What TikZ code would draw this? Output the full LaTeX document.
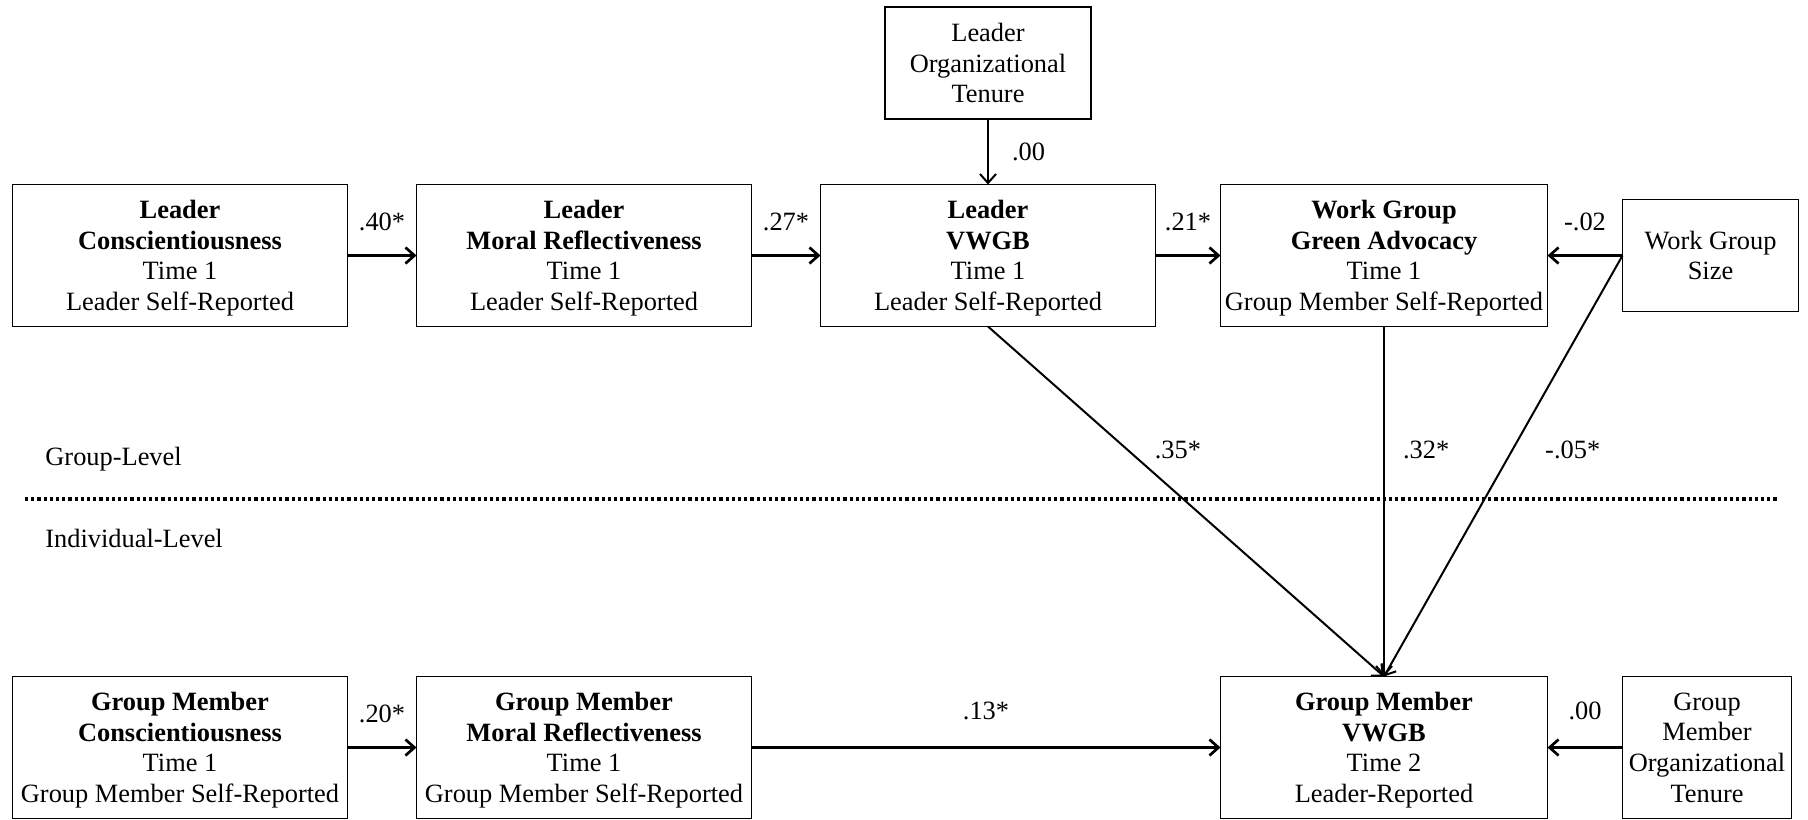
\documentclass[tikz,border=0pt]{standalone}
\usepackage{fontspec}
\setmainfont{Liberation Serif}
\usetikzlibrary{arrows.meta,positioning}

\begin{document}
\begin{tikzpicture}[
  x=0.5pt, y=-0.5pt,
  node distance=34.5pt,
  varbox/.style={rectangle, draw, line width=0.85pt, outer sep=0pt, align=center, inner sep=2pt,
    minimum width=167.5pt, minimum height=71pt, text depth=0pt, font=\fontsize{13.2}{15.3}\selectfont,
    execute at begin node={\rule{0pt}{12pt}}},
  ctrlbox/.style={varbox, minimum width=88pt, minimum height=56pt, execute at begin node={\rule{0pt}{10pt}}},
  effect/.style={line width=1pt, -{Straight Barb[length=4.5pt,width=8pt]}},
  flat/.style={effect, line width=1.35pt},
  coef/.style={font=\fontsize{13.2}{15.3}\selectfont, inner sep=1pt},
  levelnote/.style={font=\fontsize{13.2}{15.3}\selectfont, anchor=west, inner sep=0pt}
]
  \useasboundingbox (0,0) rectangle (1808,819);

  % group-level variables
  \node (lc) [varbox] at (180,255.5) {\textbf{Leader}\\\textbf{Conscientiousness}\\Time 1\\Leader Self-Reported};
  \node (lmr) [varbox, right=of lc] {\textbf{Leader}\\\textbf{Moral Reflectiveness}\\Time 1\\Leader Self-Reported};
  \node (lv) [varbox, right=of lmr] {\textbf{Leader}\\\textbf{VWGB}\\Time 1\\Leader Self-Reported};
  \node (wga) [varbox, right=32.5pt of lv, minimum width=163.5pt] {\textbf{Work Group}\\\textbf{Green Advocacy}\\Time 1\\Group Member Self-Reported};
  \node (wgs) [ctrlbox, right=37.5pt of wga] {Work Group\\Size};
  \node (lot) [ctrlbox, above=32.8pt of lv, minimum width=103pt] {Leader\\Organizational\\Tenure};

  % individual-level variables
  \node (gmc) [varbox, below=175pt of lc] {\textbf{Group Member}\\\textbf{Conscientiousness}\\Time 1\\Group Member Self-Reported};
  \node (gmmr) [varbox, right=of gmc] {\textbf{Group Member}\\\textbf{Moral Reflectiveness}\\Time 1\\Group Member Self-Reported};
  \node (gmv) [varbox, below=175pt of wga, minimum width=163.5pt] {\textbf{Group Member}\\\textbf{VWGB}\\Time 2\\Leader-Reported};
  \node (gmot) [ctrlbox, right=37.5pt of gmv, minimum width=84.5pt, minimum height=71pt] {Group\\Member\\Organizational\\Tenure};

  % level separator
  \coordinate (sepl) at (25,499);
  \coordinate (sepr) at (1777,499);
  \draw [line width=1.6pt, dash pattern=on 1.6pt off 1.5pt] (sepl) -- (sepr);
  \node (grp) [levelnote] at (45,459) {Group-Level};
  \node (ind) [levelnote] at (45,538) {Individual-Level};

  % paths
  \draw [flat] (lc) -- node [coef, above=10.5pt] {.40*} (lmr);
  \draw [flat] (lmr) -- node [coef, above=10.5pt] {.27*} (lv);
  \draw [flat] (lv) -- node [coef, above=10.5pt] {.21*} (wga);
  \draw [flat] (wgs.west) -- node [coef, above=10.5pt] {-.02} (wga);
  \draw [effect] (lot) -- node [coef, right=10.5pt] {.00} (lv);
  \draw [effect] (lv.south) -- node [coef, pos=0.353, right=12pt] {.35*} (gmv.north);
  \draw [effect] (wga.south) -- node [coef, pos=0.353, right=8pt] {.32*} (gmv.north);
  \draw [effect] (wgs.west) -- node [coef, pos=0.4625, right=15pt] {-.05*} (gmv.north);
  \draw [flat] (gmc) -- node [coef, above=10.5pt] {.20*} (gmmr);
  \draw [flat] (gmmr) -- node [coef, above=12pt] {.13*} (gmv);
  \draw [flat] (gmot) -- node [coef, above=12pt] {.00} (gmv);
\end{tikzpicture}
\end{document}
